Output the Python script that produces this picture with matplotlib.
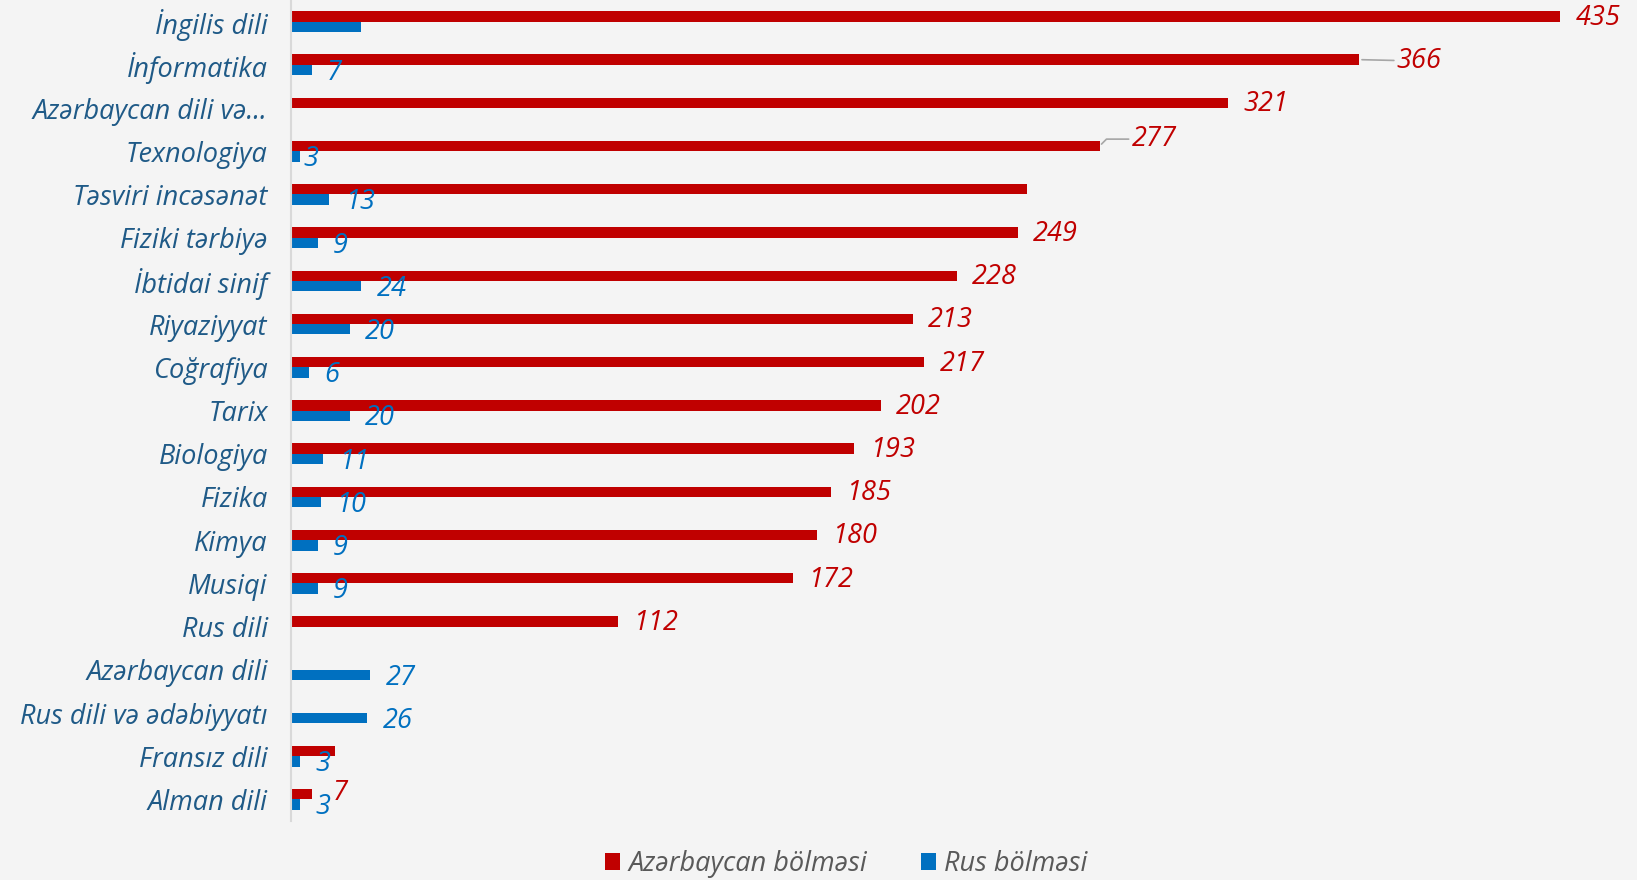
import numpy as np
import matplotlib
matplotlib.use("Agg")
import matplotlib.pyplot as plt

subjects = ["İngilis dili", "İnformatika", "Azərbaycan dili və...", "Texnologiya",
            "Təsviri incəsənət", "Fiziki tərbiyə", "İbtidai sinif", "Riyaziyyat",
            "Coğrafiya", "Tarix", "Biologiya", "Fizika", "Kimya", "Musiqi",
            "Rus dili", "Azərbaycan dili", "Rus dili və ədəbiyyatı", "Fransız dili",
            "Alman dili"]
az_vals = [435, 366, 321, 277, 252, 249, 228, 213, 217, 202, 193, 185, 180, 172,
           112, 0, 0, 15, 7]
ru_vals = [24, 7, 0, 3, 13, 9, 24, 20, 6, 20, 11, 10, 9, 9, 0, 27, 26, 3, 3]
# labels hidden in the original (overlaps)
az_hidden = {"Təsviri incəsənət", "Fransız dili"}
ru_hidden = {"İngilis dili"}

RED = "#C00000"
BLUE = "#0070C0"
TICK = "#1F5A87"
BG = "#F4F4F4"
FS = 19.5

plt.rcParams['font.family'] = ['Open Sans', 'DejaVu Sans']

fig = plt.figure(figsize=(16.37, 8.8), dpi=100, facecolor=BG)
ax = fig.add_axes([0.178, 0.067, 0.802, 0.933])
ax.set_facecolor(BG)

y = np.arange(len(subjects))
h = 0.24
ax.barh(y - h / 2, az_vals, height=h, color=RED, label="Azərbaycan bölməsi")
ax.barh(y + h / 2, ru_vals, height=h, color=BLUE, label="Rus bölməsi")

ax.set_xlim(0, 450)
ax.set_ylim(len(subjects) - 0.5, -0.5)
ax.set_yticks(y)
ax.set_yticklabels(subjects, fontsize=FS, style='italic', color=TICK)
ax.tick_params(axis='y', length=0, pad=17)
ax.set_xticks([])
for s in ["top", "right", "bottom"]:
    ax.spines[s].set_visible(False)
ax.spines["left"].set_color("#D9D9D9")
ax.spines["left"].set_linewidth(1.5)

# data labels
for i, name in enumerate(subjects):
    v = az_vals[i]
    if v > 0 and name not in az_hidden:
        dx, dy = 11, -1
        arrow = None
        if name == "İnformatika":
            dx = 27
            arrow = dict(arrowstyle="-", color="#A6A6A6", lw=1.2, shrinkA=0, shrinkB=2)
        elif name == "Texnologiya":
            dx, dy = 23, 5
            arrow = dict(arrowstyle="-", color="#A6A6A6", lw=1.2, shrinkA=0, shrinkB=2,
                         connectionstyle="angle,angleA=0,angleB=45,rad=0")
        elif name == "Alman dili":
            dx, dy = 15, 1
        ax.annotate(str(v), xy=(v, i - h / 2), xytext=(dx, dy), textcoords="offset points",
                    ha="left", va="center", fontsize=FS, style='italic', color=RED,
                    arrowprops=arrow)
    r = ru_vals[i]
    if r > 0 and name not in ru_hidden:
        dx = 2 if name == "Texnologiya" else 11
        ax.annotate(str(r), xy=(r, i + h / 2), xytext=(dx, -2), textcoords="offset points",
                    ha="left", va="center", fontsize=FS, style='italic', color=BLUE)

leg = fig.legend(loc="center", bbox_to_anchor=(0.517, 0.018), ncol=2, frameon=False,
                 handlelength=0.55, handleheight=0.55, handletextpad=0.3,
                 columnspacing=2.0, prop={'style': 'italic', 'size': FS})
for t in leg.get_texts():
    t.set_color("#595959")

fig.savefig("out.png", dpi=100, facecolor=BG)
